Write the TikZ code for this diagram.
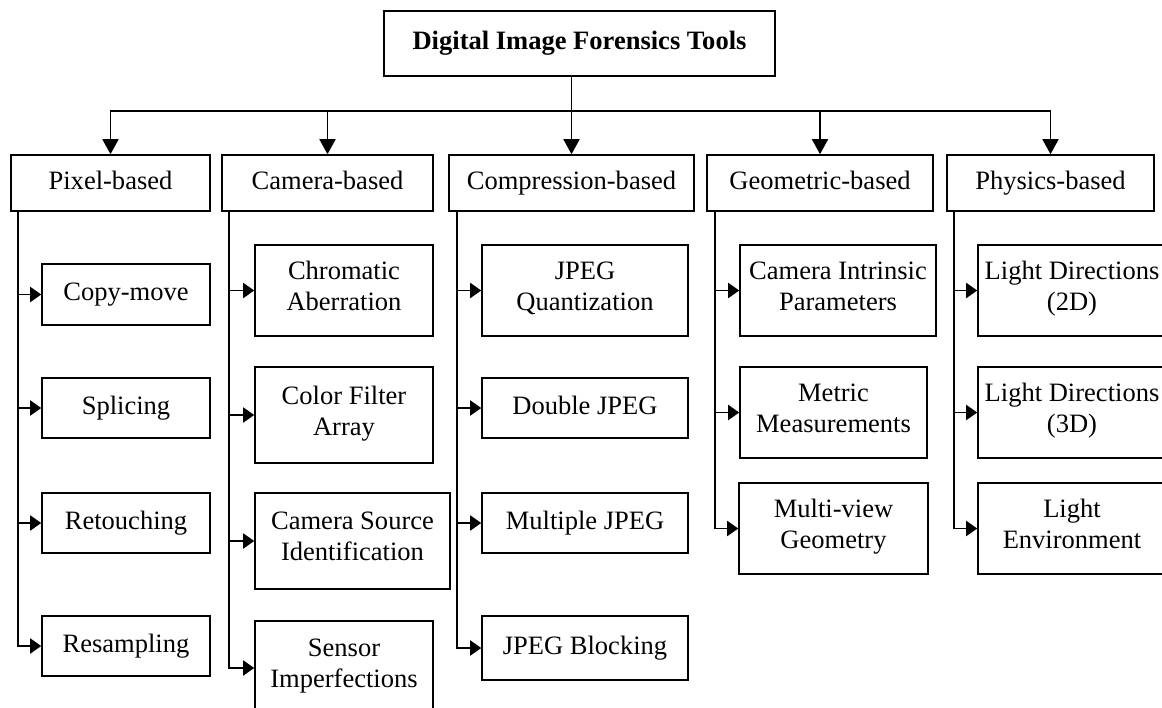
\documentclass[tikz,border=0pt]{standalone}
\usepackage{fontspec}
\setmainfont{Liberation Serif}
\usetikzlibrary{arrows.meta}

\tikzset{
  box/.style={draw,line width=0.9pt,align=center,inner sep=0pt,font=\fontsize{15.1}{17.6}\selectfont,
    execute at begin node=\strut,execute at end node=\strut},
  bus/.style={line width=1pt,line cap=rect},
  catarrow/.style={line width=1pt,-{Triangle[length=0.3cm,width=0.32cm]}},
  subarrow/.style={line width=1pt,-{Triangle[length=0.22cm,width=0.3cm]}},
}

\begin{document}
\begin{tikzpicture}[x=0.02cm,y=-0.02cm]
\useasboundingbox (0,0) rectangle (1162,707);
\clip (0,0) rectangle (1162,707);

\node[box,font=\fontsize{15.1}{17.6}\selectfont\bfseries,minimum width=7.82cm,minimum height=1.3cm] (tools) at (579.5,43.5) {Digital Image Forensics Tools};

% categories
\node[box,minimum width=3.98cm,minimum height=1.12cm] (pixel) at (110.5,183) {Pixel-based};
\node[box,minimum width=4.22cm,minimum height=1.12cm] (camera) at (327.5,183) {Camera-based};
\node[box,minimum width=4.9cm,minimum height=1.12cm] (compr) at (571.5,183) {Compression-based};
\node[box,minimum width=4.52cm,minimum height=1.12cm] (geom) at (820,183) {Geometric-based};
\node[box,minimum width=4.14cm,minimum height=1.12cm] (phys) at (1050.5,183) {Physics-based};

% pixel-based
\node[box,minimum width=3.36cm,minimum height=1.22cm] (copymove) at (126,294.5) {Copy-move};
\node[box,minimum width=3.36cm,minimum height=1.2cm] (splicing) at (126,408) {Splicing};
\node[box,minimum width=3.36cm,minimum height=1.2cm] (retouch) at (126,523) {Retouching};
\node[box,minimum width=3.36cm,minimum height=1.2cm] (resampl) at (126,646) {Resampling};

% camera-based
\node[box,minimum width=3.56cm,minimum height=1.82cm] (chromab) at (344,290.5) {Chromatic\\Aberration};
\node[box,minimum width=3.56cm,minimum height=1.92cm] (cfa) at (344,415) {Color Filter\\Array};
\node[box,minimum width=3.9cm,minimum height=1.92cm] (camsrc) at (352.5,541) {Camera Source\\Identification};
\node[box,minimum width=3.56cm,minimum height=1.88cm] (sensor) at (344,668) {Sensor\\Imperfections};

% compression-based
\node[box,minimum width=4.12cm,minimum height=1.82cm] (jpegq) at (585,290.5) {JPEG\\Quantization};
\node[box,minimum width=4.12cm,minimum height=1.2cm] (doublej) at (585,408) {Double JPEG};
\node[box,minimum width=4.12cm,minimum height=1.2cm] (multij) at (585,523) {Multiple JPEG};
\node[box,minimum width=4.12cm,minimum height=1.28cm] (blockj) at (585,648) {JPEG Blocking};

% geometric-based
\node[box,minimum width=3.92cm,minimum height=1.82cm] (intrins) at (838,290.5) {Camera Intrinsic\\Parameters};
\node[box,minimum width=3.74cm,minimum height=1.82cm] (metric) at (833.5,412.5) {Metric\\Measurements};
\node[box,minimum width=3.78cm,minimum height=1.82cm] (multiview) at (833.5,528.5) {Multi-view\\Geometry};

% physics-based
\node[box,minimum width=3.76cm,minimum height=1.82cm] (light2d) at (1072,290.5) {Light Directions\\(2D)};
\node[box,minimum width=3.76cm,minimum height=1.82cm] (light3d) at (1072,412.5) {Light Directions\\(3D)};
\node[box,minimum width=3.76cm,minimum height=1.82cm] (lightenv) at (1072,528.5) {Light\\Environment};

% top level connectors
\coordinate (level) at (0,111);
\draw[catarrow] (tools.south -| compr.north) -- (compr.north);
\draw[bus] (pixel.north |- level) -- (phys.north |- level);
\draw[catarrow] (pixel.north |- level) -- (pixel.north);
\draw[catarrow] (camera.north |- level) -- (camera.north);
\draw[catarrow] (geom.north |- level) -- (geom.north);
\draw[catarrow] (phys.north |- level) -- (phys.north);

% sub connectors
\draw[subarrow] ([xshift=0.16cm]pixel.south west) |- (copymove.west);
\draw[subarrow] ([xshift=0.16cm]pixel.south west) |- (splicing.west);
\draw[subarrow] ([xshift=0.16cm]pixel.south west) |- (retouch.west);
\draw[subarrow] ([xshift=0.16cm]pixel.south west) |- (resampl.west);

\draw[subarrow] ([xshift=0.16cm]camera.south west) |- (chromab.west);
\draw[subarrow] ([xshift=0.16cm]camera.south west) |- (cfa.west);
\draw[subarrow] ([xshift=0.16cm]camera.south west) |- (camsrc.west);
\draw[subarrow] ([xshift=0.16cm]camera.south west) |- (sensor.west);

\draw[subarrow] ([xshift=0.18cm]compr.south west) |- (jpegq.west);
\draw[subarrow] ([xshift=0.18cm]compr.south west) |- (doublej.west);
\draw[subarrow] ([xshift=0.18cm]compr.south west) |- (multij.west);
\draw[subarrow] ([xshift=0.18cm]compr.south west) |- (blockj.west);

\draw[subarrow] ([xshift=0.18cm]geom.south west) |- (intrins.west);
\draw[subarrow] ([xshift=0.18cm]geom.south west) |- (metric.west);
\draw[subarrow] ([xshift=0.18cm]geom.south west) |- (multiview.west);

\draw[subarrow] ([xshift=0.16cm]phys.south west) |- (light2d.west);
\draw[subarrow] ([xshift=0.16cm]phys.south west) |- (light3d.west);
\draw[subarrow] ([xshift=0.16cm]phys.south west) |- (lightenv.west);
\end{tikzpicture}
\end{document}
